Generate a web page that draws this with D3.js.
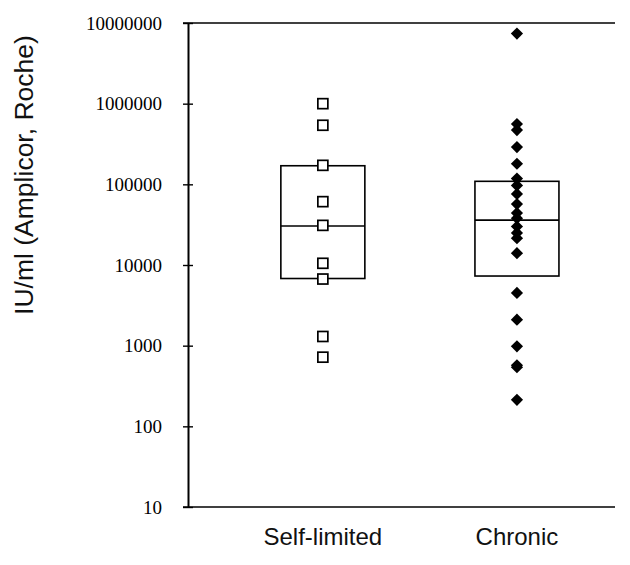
<!DOCTYPE html>
<html><head><meta charset="utf-8">
<script src="https://cdn.jsdelivr.net/npm/d3@7"></script>
<style>body{margin:0;background:#fff;} svg{display:block;}</style>
</head><body>
<svg id="chart" width="630" height="565"></svg>
<script>
const categories = ["Self-limited", "Chronic"];
const selfLimited = [1000000, 540000, 172000, 61000, 31000, 10500, 6700, 1300, 720];
const chronic = [7400000, 560000, 470000, 290000, 180000, 118000, 97000, 76000, 57000, 44000, 38000, 30000, 25000, 21500, 14000, 4500, 2100, 980, 570, 540, 213];
const boxStats = [
  {cat: "Self-limited", q1: 6800, median: 30500, q3: 170000},
  {cat: "Chronic", q1: 7300, median: 36000, q3: 109000}
];
const yTicks = [10, 100, 1000, 10000, 100000, 1000000, 10000000];
const yLabel = "IU/ml (Amplicor, Roche)";

const svg = d3.select("#chart");
const y = d3.scaleLog().domain([10, 1e7]).range([507, 23]);
const x = d3.scalePoint().domain(categories).range([188, 615]).padding(0.6).align(0.579);

// frame lines (top & bottom)
[1e7, 10].forEach(v => {
  svg.append("line").attr("x1", 183).attr("x2", 615)
    .attr("y1", y(v)).attr("y2", y(v))
    .attr("stroke", "#000").attr("stroke-width", 1.6);
});

// y axis
const ax = svg.append("g").attr("transform", "translate(188,0)")
  .call(d3.axisLeft(y).tickValues(yTicks).tickFormat(d3.format("d")).tickSizeOuter(0).tickSizeInner(5).tickPadding(21));
ax.select(".domain").attr("stroke-width", 2);
ax.selectAll(".tick line").attr("x1", 5).attr("x2", -5).attr("stroke-width", 1.4);
ax.selectAll(".tick text").attr("font-family", "Liberation Serif, Times New Roman, serif")
  .attr("font-size", 19).attr("fill", "#000");

// y label
svg.append("text").attr("transform", "translate(33,175) rotate(-90)")
  .attr("text-anchor", "middle").attr("font-family", "Liberation Sans, Arial, sans-serif")
  .attr("font-size", 26.5).attr("fill", "#111").text(yLabel);

// x labels
svg.selectAll(".xl").data(categories).enter().append("text")
  .attr("x", d => x(d)).attr("y", 545).attr("text-anchor", "middle")
  .attr("font-family", "Liberation Sans, Arial, sans-serif").attr("font-size", 24)
  .attr("fill", "#111").text(d => d);

// boxes
const bw = 84;
const bg = svg.selectAll(".box").data(boxStats).enter().append("g");
bg.append("rect").attr("x", d => x(d.cat) - bw / 2).attr("width", bw)
  .attr("y", d => y(d.q3)).attr("height", d => y(d.q1) - y(d.q3))
  .attr("fill", "none").attr("stroke", "#000").attr("stroke-width", 1.6);
bg.append("line").attr("x1", d => x(d.cat) - bw / 2).attr("x2", d => x(d.cat) + bw / 2)
  .attr("y1", d => y(d.median)).attr("y2", d => y(d.median))
  .attr("stroke", "#000").attr("stroke-width", 1.6);

// self-limited squares
const s = 10;
svg.selectAll(".sq").data(selfLimited).enter().append("rect")
  .attr("x", x("Self-limited") - s / 2).attr("y", d => y(d) - s / 2)
  .attr("width", s).attr("height", s)
  .attr("fill", "#fff").attr("stroke", "#000").attr("stroke-width", 1.7);

// chronic diamonds
const sym = d3.symbol().type(d3.symbolDiamond2).size(95);
svg.selectAll(".dm").data(chronic).enter().append("path")
  .attr("d", sym).attr("transform", d => `translate(${x("Chronic")},${y(d)}) rotate(0)`)
  .attr("fill", "#000");
</script>
</body></html>
